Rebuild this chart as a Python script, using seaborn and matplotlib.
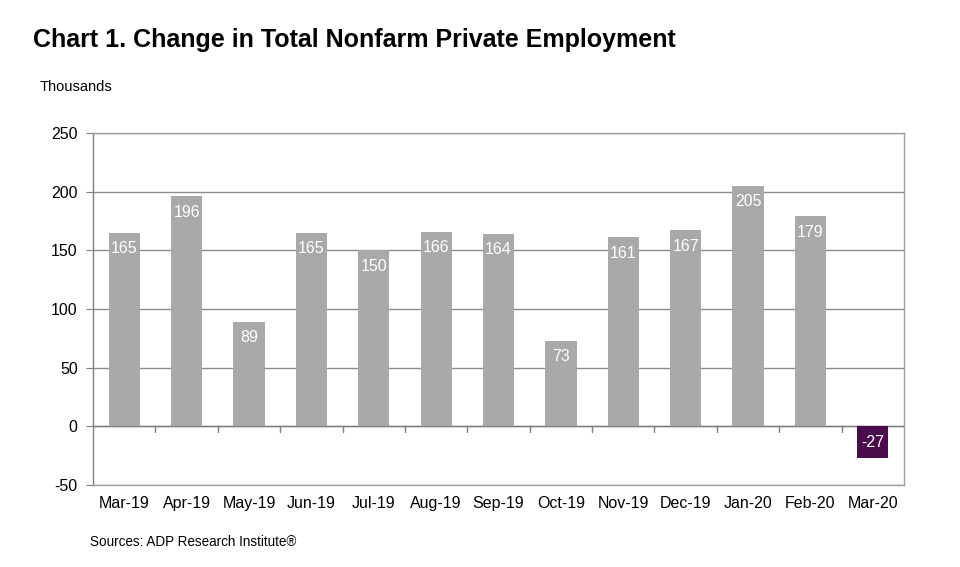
import pandas as pd
import matplotlib.pyplot as plt
import seaborn as sns

# monthly change, thousands
months = ['Mar-19', 'Apr-19', 'May-19', 'Jun-19', 'Jul-19', 'Aug-19', 'Sep-19',
          'Oct-19', 'Nov-19', 'Dec-19', 'Jan-20', 'Feb-20', 'Mar-20']
change = [165, 196, 89, 165, 150, 166, 164, 73, 161, 167, 205, 179, -27]

df = pd.DataFrame({'month': months, 'change': change})
colors = ['#4b0c4b' if v < 0 else '#a9a9a9' for v in change]

sns.set_style('white')
plt.rcParams['font.family'] = ['Liberation Sans', 'DejaVu Sans']
plt.rcParams['axes.unicode_minus'] = False
plt.rcParams['text.color'] = 'black'
plt.rcParams['xtick.labelcolor'] = 'black'
plt.rcParams['ytick.labelcolor'] = 'black'

fig = plt.figure(figsize=(9.6, 5.67), dpi=100)
ax = fig.add_axes([0.0969, 0.1446, 0.8448, 0.6208])

sns.barplot(data=df, x='month', y='change', hue='month', palette=colors,
            legend=False, width=0.5, saturation=1, linewidth=0, ax=ax, zorder=3)

ax.set_ylim(-50, 250)
ax.set_xlim(-0.5, len(months) - 0.5)
ax.set_yticks(range(-50, 251, 50))
ax.yaxis.grid(True, color='#8c8c8c', linewidth=1, zorder=0)
ax.set_axisbelow(True)
for s in ax.spines.values():
    s.set_color('#a0a0a0')
    s.set_linewidth(1)
ax.spines['left'].set_color('#808080')
ax.set_xlabel('')
ax.set_ylabel('')
ax.tick_params(axis='y', length=5, color='#808080', labelsize=11.5, pad=6, left=True)
ax.tick_params(axis='x', length=0, labelsize=11.5, pad=8)

# tick marks on the zero line between categories
ax.axhline(0, color='#808080', linewidth=1, zorder=2)
for i in range(len(months) - 1):
    ax.plot([i + 0.5, i + 0.5], [0, -5], color='#808080', linewidth=1, zorder=2,
            clip_on=False)

# value labels
for i, v in enumerate(change):
    if v >= 0:
        ax.annotate(str(v), (i, v), xytext=(0, -6), textcoords='offset points',
                    ha='center', va='top', color='white', fontsize=11.5, zorder=4)
    else:
        ax.annotate(str(v), (i, v / 2), ha='center', va='center',
                    color='white', fontsize=11.5, zorder=4)

fig.text(0.034, 0.93, 'Chart 1. Change in Total Nonfarm Private Employment',
         fontsize=18, fontweight='bold', va='center')
fig.text(0.041, 0.847, 'Thousands', fontsize=10.5, va='center')
fig.text(0.094, 0.044, 'Sources: ADP Research Institute\u00ae', fontsize=9.75, va='center')

fig.savefig('out.png', dpi=100)
